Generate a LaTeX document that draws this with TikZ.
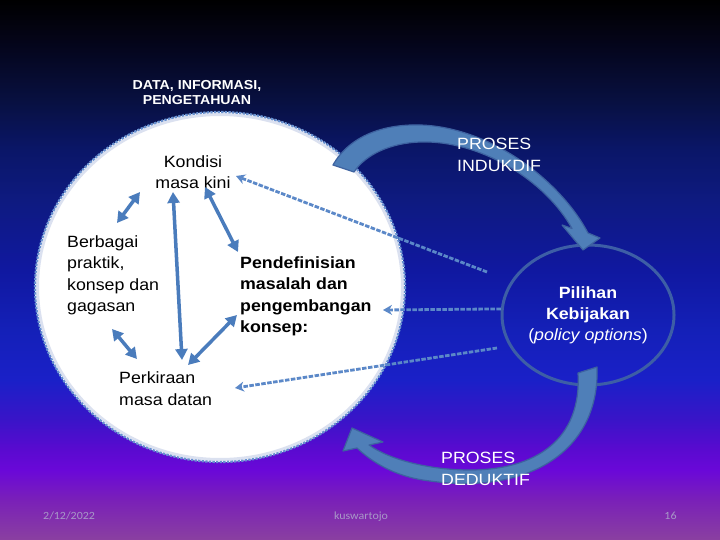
\documentclass[tikz,border=0pt]{standalone}
\usepackage{fontspec}
\setmainfont{Liberation Sans}[FakeStretch=1.09]
\newfontfamily\footfont{Carlito}[FakeStretch=1.09]
\usetikzlibrary{arrows.meta,shapes.geometric}
\definecolor{bgK}{HTML}{8A40A0}
\definecolor{bgJ}{HTML}{7A20B8}
\definecolor{bgI}{HTML}{6A08D8}
\definecolor{bgH}{HTML}{5A0AD0}
\definecolor{bgG}{HTML}{3A14C8}
\definecolor{bgF}{HTML}{1A20C8}
\definecolor{bgE}{HTML}{1420B8}
\definecolor{bgD}{HTML}{1018A0}
\definecolor{bgC}{HTML}{0E1A80}
\definecolor{bgB}{HTML}{0A1668}
\definecolor{bgA}{HTML}{081040}
\definecolor{bgZ}{HTML}{040418}
\definecolor{bgY}{HTML}{000000}
\pgfdeclareverticalshading{slidebg}{100bp}{color(0bp)=(bgK); color(25bp)=(bgK); color(28.7bp)=(bgJ); color(31.48bp)=(bgI); color(33.33bp)=(bgH); color(36.11bp)=(bgG); color(39.81bp)=(bgF); color(44.44bp)=(bgE); color(50bp)=(bgD); color(56.48bp)=(bgC); color(61.11bp)=(bgB); color(65.74bp)=(bgA); color(71.3bp)=(bgZ); color(75bp)=(bgY); color(100bp)=(bgY)}
\definecolor{arrblue}{HTML}{4A7CBC}
\definecolor{dashblue}{HTML}{5B88C8}
\definecolor{circedge}{HTML}{6690D0}
\definecolor{glowc}{HTML}{C4CDE6}
\definecolor{ellblue}{HTML}{3D5EA6}
\definecolor{bigfill}{HTML}{4F7FB8}
\definecolor{bigedge}{HTML}{3D62A0}
\definecolor{footgray}{HTML}{A898C8}
\tikzset{
  lbl/.style={inner sep=0pt, font=\fontsize{16.3}{21.6}\selectfont, text=black, align=left},
  blbl/.style={lbl, font=\fontsize{16.3}{21.6}\selectfont\bfseries},
  wlbl/.style={lbl, text=white},
  solidarr/.style={draw=arrblue, line width=3.5pt, {Triangle[length=11pt,width=12pt]}-{Triangle[length=11pt,width=12pt]}},
  dasharr/.style={draw=dashblue, line width=2.8pt, dash pattern=on 4.5pt off 1.5pt, -{Stealth[length=9pt,width=10pt]}},
  bigarrow/.style={fill=bigfill, draw=bigedge, line width=1.2pt, line join=round},
  foot/.style={font=\footfont\fontsize{11}{13}\selectfont, text=footgray, inner sep=0pt}
}
\begin{document}
\begin{tikzpicture}[x=1pt,y=-1pt]
\useasboundingbox (0,0) rectangle (720,540);
\shade[shading=slidebg] (0,0) rectangle (720,540);

% big white circle
\node[ellipse, fill=white, minimum width=370pt, minimum height=350pt, inner sep=0pt] (circ) at (220,287) {};
\draw[glowc, line width=3pt, opacity=.6] (circ.center) ellipse [x radius=182.5, y radius=172.5];
\draw[circedge, line width=2.2pt, dash pattern=on 2.4pt off 1.2pt] (circ.center) ellipse [x radius=185, y radius=175];

% policy options ellipse
\node[ellipse, draw=ellblue, line width=3pt, minimum width=172pt, minimum height=140pt, inner sep=0pt,
      text=white, align=center, font=\fontsize{16.3}{21}\selectfont] (pilihan) at (588,315)
      {\textbf{Pilihan}\\\textbf{Kebijakan}\\(\textit{policy options})};

% dashed connectors
\coordinate (d1s) at (487,272); \coordinate (d1e) at (236,176);
\coordinate (d2e) at (383,310);
\coordinate (d3s) at (497,348); \coordinate (d3e) at (235,388);
\draw[dasharr] (d1s) -- (d1e);
\draw[dasharr] (pilihan.176) -- (d2e);
\draw[dasharr] (d3s) -- (d3e);

% PROSES INDUKDIF curved arrow
\draw[bigarrow] (333,165) .. controls (350,135) and (385,124) .. (420,125)
   .. controls (490,127) and (560,180) .. (588,233)
   -- (600,238) -- (583,250) -- (562,225) -- (572,228.5)
   .. controls (545,180) and (480,140) .. (420,142)
   .. controls (390,143) and (365,155) .. (354,172) -- cycle;

% PROSES DEDUKTIF curved arrow
\draw[bigarrow] (597,367) .. controls (600,450) and (530,495) .. (430,481)
   .. controls (395,477) and (372,462) .. (357,448)
   -- (343,451) -- (352,428) -- (383,442) -- (369,445)
   .. controls (390,460) and (430,470) .. (470,470)
   .. controls (535,470) and (582,440) .. (578,373) -- cycle;

% texts
\node[inner sep=0pt, anchor=north, align=center, text=white, font=\fontsize{13}{15.7}\selectfont\bfseries] (data) at (197,80) {DATA, INFORMASI,\\PENGETAHUAN};
\node[lbl, anchor=north, align=center] (kondisi) at (193,155) {Kondisi\\masa kini};
\node[lbl, anchor=north west] (berbagai) at (67,235) {Berbagai\\praktik,\\konsep dan\\gagasan};
\node[blbl, anchor=north west] (pendef) at (240,256) {Pendefinisian\\masalah dan\\pengembangan\\konsep:};
\node[lbl, anchor=north west] (perkiraan) at (119,371.6) {Perkiraan\\masa datan};
\node[wlbl, anchor=north west] (induk) at (457,138.3) {PROSES\\INDUKDIF};
\node[wlbl, anchor=north west] (deduk) at (441,452.3) {PROSES\\DEDUKTIF};

% solid double arrows
\coordinate (a1s) at (117,223); \coordinate (a1e) at (140,192);
\coordinate (a2s) at (173,192); \coordinate (a2e) at (182,360);
\coordinate (a3s) at (205,187); \coordinate (a3e) at (238,252);
\coordinate (a4s) at (188,365); \coordinate (a4e) at (237,315);
\coordinate (a5s) at (112,329); \coordinate (a5e) at (137,359);
\draw[solidarr] (a1s) -- (a1e);
\draw[solidarr] (a2s) -- (a2e);
\draw[solidarr] (a3s) -- (a3e);
\draw[solidarr] (a4s) -- (a4e);
\draw[solidarr] (a5s) -- (a5e);

% footer
\node[foot, anchor=base west] (date) at (43,519) {2/12/2022};
\node[foot, anchor=base] (author) at (361,519) {kuswartojo};
\node[foot, anchor=base] (page) at (670.5,519) {16};
\end{tikzpicture}
\end{document}
